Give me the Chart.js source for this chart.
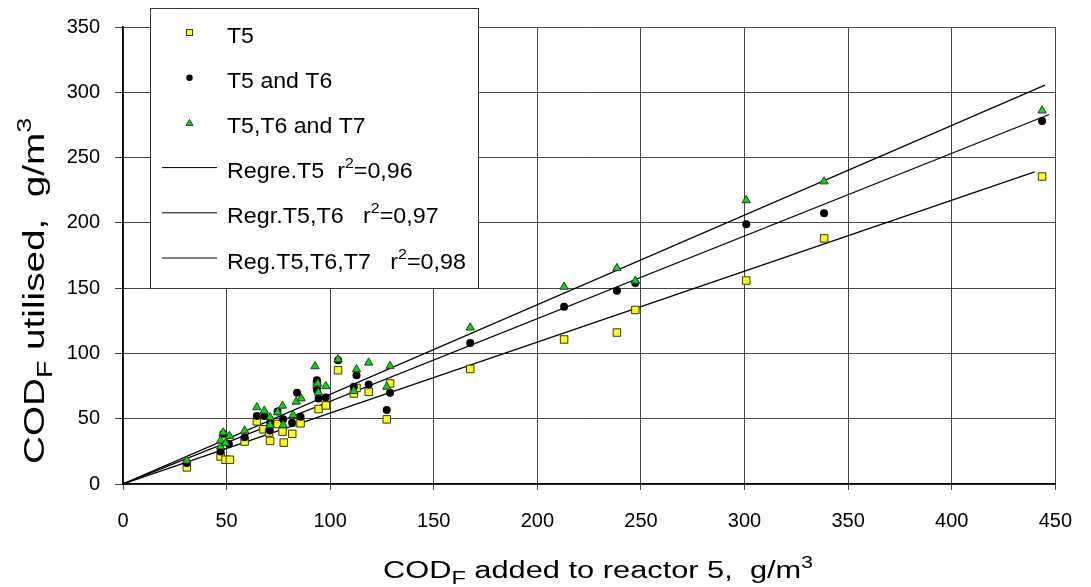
<!DOCTYPE html>
<html>
<head>
<meta charset="utf-8">
<script src="https://cdn.jsdelivr.net/npm/chart.js@4/dist/chart.umd.min.js"></script>
<style>
  html, body { margin: 0; padding: 0; background: #fff; }
  #wrap { width: 1091px; height: 587px; }
</style>
</head>
<body>
<div id="wrap"><canvas id="codChart" width="1091" height="587"></canvas></div>
<script>
// Axis ticks
const xTicks = [0, 50, 100, 150, 200, 250, 300, 350, 400, 450];
const yTicks = [0, 50, 100, 150, 200, 250, 300, 350];

// T5 (yellow squares)
const t5X = [30.8, 47.1, 48.5, 49.5, 51.6, 58.7, 64.6, 67.8, 70.5, 71, 74.6, 77, 77.6, 81.7, 83.6, 85.7,
             93.6, 94.4, 97.9, 103.8, 111.4, 112.7, 118.6, 127.3, 128.9, 167.6, 212.9, 238.4, 247.3, 300.8, 338.4, 443.6];
const t5Y = [12.7, 21.1, 35, 18.6, 18.6, 32.5, 48, 41.9, 39.4, 33, 46, 40.1, 31.7, 38.4, 47.3, 46.5,
             75.7, 57.4, 60.2, 87.1, 69.3, 73.6, 70.6, 49.5, 77, 88.1, 110.7, 116, 133.3, 155.8, 188.1, 235.5];

// T5 and T6 (black circles)
const t56X = [30.8, 47.1, 48.5, 51.1, 58.7, 64.6, 68.2, 71, 70.9, 74.6, 77.3, 81.6, 84, 85.7,
              93.6, 93.6, 94.4, 97.9, 103.8, 111.4, 112.7, 118.6, 127.3, 128.9, 167.6, 212.9, 238.4, 247.3, 300.8, 338.4, 443.6];
const t56Y = [16, 24.9, 38.5, 30.7, 35.8, 52.1, 52.1, 47, 41, 55.5, 49.5, 47, 69.8, 51.5,
              79.5, 71.9, 65.5, 66.3, 94.7, 74.4, 83.3, 76.2, 56.6, 69.8, 107.9, 135.8, 148, 154, 199, 207.3, 278];

// T5,T6 and T7 (green triangles)
const t567X = [30.8, 47.1, 47.1, 48.4, 49.5, 51.4, 58.7, 64.6, 68.2, 71, 71, 74.6, 77, 77.3, 82.1, 83.6, 86,
               92.7, 94, 94.3, 97.9, 103.8, 111.4, 112.7, 118.6, 127.3, 128.9, 167.6, 212.9, 238.4, 247.3, 300.8, 338.4, 443.6];
const t567Y = [18, 28.7, 33.3, 39.4, 31.3, 36.8, 40.9, 58.7, 56.1, 51.1, 45.2, 54.9, 59.9, 45.2, 52.8, 63, 65.5,
               90.1, 77, 70.1, 74.9, 95.5, 71.1, 87.8, 92.9, 74.4, 90.4, 119.8, 151, 165.3, 155.6, 217.3, 231.7, 286];

// Regression lines (through origin)
const regT5X = [0, 440];
const regT5Y = [0, 239];
const regT56X = [0, 447];
const regT56Y = [0, 283];
const regT567X = [0, 445];
const regT567Y = [0, 305.5];

const seriesNames = ['T5', 'T5 and T6', 'T5,T6 and T7'];
const regNames = ['Regre.T5  r', 'Regr.T5,T6   r', 'Reg.T5,T6,T7   r'];
const regR2 = ['=0,96', '=0,97', '=0,98'];

const FONT = '"Liberation Sans", Arial, Helvetica, sans-serif';
const pts = (xs, ys) => xs.map((x, i) => ({ x: x, y: ys[i] }));

// draws text pieces (subscript / superscript) with optional horizontal stretch
function drawRich(ctx, parts, stretch) {
    ctx.save();
    ctx.scale(stretch, 1);
    let cx = 0;
    parts.forEach(p => {
        ctx.font = p.size + 'px ' + FONT;
        ctx.fillText(p.text, cx, p.dy || 0);
        cx += ctx.measureText(p.text).width;
    });
    ctx.restore();
}

const decorPlugin = {
    id: 'decor',
    afterDraw(chart) {
        const ctx = chart.ctx;
        ctx.save();
        ctx.fillStyle = '#000';
        ctx.textBaseline = 'alphabetic';
        ctx.textAlign = 'left';

        // x axis title
        ctx.save();
        ctx.translate(383, 578);
        drawRich(ctx, [
            { text: 'COD', size: 23.5 },
            { text: 'F', size: 18, dy: 6 },
            { text: ' added to reactor 5,  g/m', size: 23.5 },
            { text: '3', size: 16, dy: -10 }
        ], 1.31);
        ctx.restore();

        // y axis title
        ctx.save();
        ctx.translate(44, 464);
        ctx.rotate(-Math.PI / 2);
        drawRich(ctx, [
            { text: 'COD', size: 30 },
            { text: 'F', size: 22, dy: 8 },
            { text: ' utilised,  g/m', size: 30 },
            { text: '3', size: 21, dy: -13 }
        ], 1.29);
        ctx.restore();

        // legend box
        ctx.fillStyle = '#fff';
        ctx.fillRect(150, 8, 328, 280);
        ctx.strokeStyle = '#333';
        ctx.lineWidth = 1;
        ctx.strokeRect(150.5, 8.5, 328, 280);

        const rowBase = i => 42.5 + 45.2 * i;
        const mx = 189.5;

        // marker rows
        for (let i = 0; i < 3; i++) {
            const cy = rowBase(i) - 10;
            ctx.lineWidth = 1;
            ctx.strokeStyle = '#333';
            if (i === 0) {
                ctx.fillStyle = '#ffff00';
                ctx.fillRect(mx - 3, cy - 3, 6, 6);
                ctx.strokeRect(mx - 3, cy - 3, 6, 6);
            } else if (i === 1) {
                ctx.fillStyle = '#000';
                ctx.beginPath();
                ctx.arc(mx, cy, 3.2, 0, Math.PI * 2);
                ctx.fill();
            } else {
                ctx.fillStyle = '#00e000';
                ctx.beginPath();
                ctx.moveTo(mx, cy - 3.5);
                ctx.lineTo(mx + 3.5, cy + 2.5);
                ctx.lineTo(mx - 3.5, cy + 2.5);
                ctx.closePath();
                ctx.fill();
                ctx.stroke();
            }
            ctx.fillStyle = '#000';
            ctx.save();
            ctx.translate(227, rowBase(i));
            drawRich(ctx, [{ text: seriesNames[i], size: 22 }], 1.05);
            ctx.restore();
        }

        // regression rows
        for (let i = 0; i < 3; i++) {
            const b = rowBase(i + 3);
            ctx.strokeStyle = '#000';
            ctx.lineWidth = 1;
            ctx.beginPath();
            ctx.moveTo(162, b - 10.5);
            ctx.lineTo(217, b - 10.5);
            ctx.stroke();
            ctx.fillStyle = '#000';
            ctx.save();
            ctx.translate(227, b);
            drawRich(ctx, [
                { text: regNames[i], size: 22 },
                { text: '2', size: 15, dy: -10 },
                { text: regR2[i], size: 22 }
            ], 1.06);
            ctx.restore();
        }
        ctx.restore();
    }
};

const regLine = (label, xs, ys) => ({
    label: label,
    data: pts(xs, ys),
    showLine: true,
    pointRadius: 0,
    borderColor: '#000',
    borderWidth: 1.2,
    order: 4
});

const ctx = document.getElementById('codChart').getContext('2d');
new Chart(ctx, {
    type: 'scatter',
    data: {
        datasets: [
            {
                label: seriesNames[2],
                data: pts(t567X, t567Y),
                pointStyle: 'triangle',
                pointRadius: 4.8,
                backgroundColor: '#00e000',
                borderColor: '#333',
                borderWidth: 1,
                order: 1
            },
            {
                label: seriesNames[1],
                data: pts(t56X, t56Y),
                pointStyle: 'circle',
                pointRadius: 4,
                backgroundColor: '#000',
                borderColor: '#000',
                borderWidth: 0,
                order: 2
            },
            {
                label: seriesNames[0],
                data: pts(t5X, t5Y),
                pointStyle: 'rect',
                pointRadius: 5.3,
                backgroundColor: '#ffff00',
                borderColor: '#333',
                borderWidth: 1,
                order: 3
            },
            regLine('reg T5', regT5X, regT5Y),
            regLine('reg T5,T6', regT56X, regT56Y),
            regLine('reg T5,T6,T7', regT567X, regT567Y)
        ]
    },
    options: {
        responsive: false,
        animation: false,
        events: [],
        layout: {
            padding: { top: 24, right: 23, left: 0, bottom: 0 }
        },
        plugins: {
            legend: { display: false },
            tooltip: { enabled: false }
        },
        scales: {
            x: {
                type: 'linear',
                min: 0,
                max: 450,
                afterBuildTicks: s => { s.ticks = xTicks.map(v => ({ value: v })); },
                afterFit: s => { s.height = 103; },
                grid: { color: '#444', lineWidth: 1, tickLength: 6 },
                border: { color: '#000', width: 1.5 },
                ticks: {
                    font: { size: 20, family: FONT },
                    color: '#000',
                    padding: 19,
                    maxRotation: 0,
                    autoSkip: false
                }
            },
            y: {
                type: 'linear',
                min: 0,
                max: 350,
                afterBuildTicks: s => { s.ticks = yTicks.map(v => ({ value: v })); },
                afterFit: s => { s.width = 123; },
                grid: { color: '#444', lineWidth: 1, tickLength: 8 },
                border: { color: '#000', width: 1.5 },
                ticks: {
                    font: { size: 20, family: FONT },
                    color: '#000',
                    padding: 15,
                    autoSkip: false
                }
            }
        }
    },
    plugins: [decorPlugin]
});
</script>
</body>
</html>
